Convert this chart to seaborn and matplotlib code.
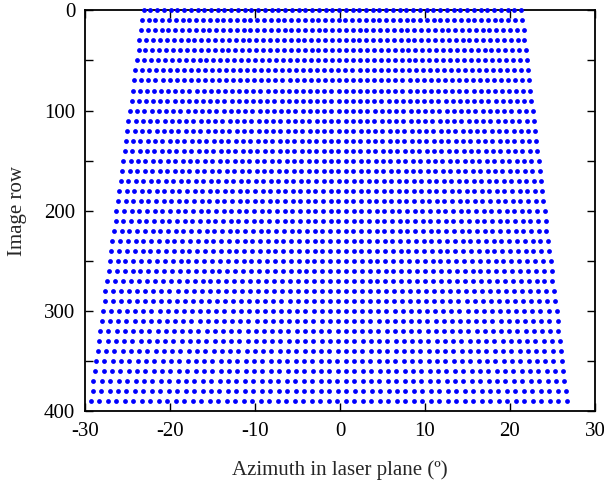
import numpy as np
import pandas as pd
import seaborn as sns
import matplotlib
matplotlib.use("Agg")
import matplotlib.pyplot as plt
from matplotlib.ticker import MultipleLocator, FixedLocator

# image rows sampled every 10 pixels
ROWS = list(range(0, 400, 10))
# azimuth (deg) of first and last sampled column on each row
LEFT_EDGE = [-23.1, -23.3, -23.4, -23.6, -23.7, -23.9, -24.1, -24.2, -24.4, -24.5,
             -24.7, -24.9, -25.0, -25.2, -25.3, -25.5, -25.6, -25.8, -26.0, -26.1,
             -26.3, -26.4, -26.6, -26.8, -26.9, -27.1, -27.2, -27.4, -27.6, -27.7,
             -27.9, -28.0, -28.2, -28.3, -28.5, -28.7, -28.8, -29.0, -29.1, -29.3]
RIGHT_EDGE = [21.3, 21.4, 21.6, 21.7, 21.9, 22.0, 22.1, 22.3, 22.4, 22.5,
              22.7, 22.8, 23.0, 23.1, 23.2, 23.4, 23.5, 23.7, 23.8, 23.9,
              24.1, 24.2, 24.3, 24.5, 24.6, 24.8, 24.9, 25.0, 25.2, 25.3,
              25.5, 25.6, 25.7, 25.9, 26.0, 26.1, 26.3, 26.4, 26.6, 26.7]
COLS_PER_ROW = 57  # image columns sampled on each row

X_TICKS = [-30, -20, -10, 0, 10, 20, 30]
Y_TICKS = [0, 100, 200, 300, 400]

# build point table: one row of samples per image row
records = []
for row, lo, hi in zip(ROWS, LEFT_EDGE, RIGHT_EDGE):
    for az in np.linspace(lo, hi, COLS_PER_ROW):
        records.append({"azimuth": az, "row": row})
df = pd.DataFrame(records)

sns.set_style("ticks")
plt.rcParams["font.family"] = ["Liberation Serif", "DejaVu Serif"]
plt.rcParams["axes.unicode_minus"] = False

fig = plt.figure(figsize=(6.04, 4.84), dpi=100)
ax = fig.add_axes([0.1407, 0.151, 0.8443, 0.8275])

sns.scatterplot(data=df, x="azimuth", y="row", ax=ax, color="#0000ff",
                s=12, linewidth=0, clip_on=False, zorder=5, legend=False)

ax.set_xlim(-30, 30)
ax.set_ylim(400, 0)
ax.xaxis.set_major_locator(FixedLocator(X_TICKS))
ax.yaxis.set_major_locator(FixedLocator(Y_TICKS))
ax.yaxis.set_minor_locator(MultipleLocator(50))
ax.set_xticklabels([str(t) for t in X_TICKS])
ax.set_yticklabels([str(t) for t in Y_TICKS])

ax.tick_params(which="both", direction="in", top=True, right=True,
               length=6, width=1, labelsize=15, colors="black")
ax.tick_params(axis="x", pad=8)
ax.tick_params(axis="y", pad=7)
for sp in ax.spines.values():
    sp.set_linewidth(1.3)
    sp.set_color("black")

ax.set_xlabel("Azimuth in laser plane (º)", fontsize=15, labelpad=14)
ax.set_ylabel("Image row", fontsize=15, labelpad=12)

fig.savefig("out.png", dpi=100)
